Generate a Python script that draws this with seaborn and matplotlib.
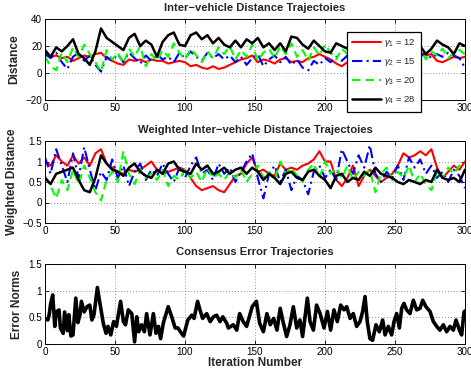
import matplotlib
matplotlib.use("Agg")
import matplotlib.pyplot as plt
import seaborn as sns

# ---------------- data ----------------
iters = list(range(0, 301, 4))

dist_g1 = [15, 12, 13, 11, 12, 9, 11, 13, 12, 14, 15, 11, 9, 7, 6, 10, 9, 10, 8, 10,
           9, 9, 7, 8, 9, 8, 5, 6, 4, 3, 5, 3, 4, 6, 8, 10, 11, 13, 8, 10,
           9, 7, 10, 11, 8, 9, 8, 11, 12, 14, 12, 10, 7, 5, 8, 10, 9, 11, 10, 12,
           11, 9, 12, 10, 11, 13, 12, 15, 13, 14, 9, 8, 10, 12, 11, 12]
dist_g2 = [14, 11, 15, 8, 3, 12, 15, 9, 13, 6, 1, 12, 9, 14, 8, 15, 11, 7, 13, 9,
           14, 10, 12, 8, 15, 11, 16, 12, 9, 15, 11, 14, 10, 13, 8, 12, 6, 11, 14, 5,
           10, 13, 8, 12, 6, 10, 4, 2, 9, 6, 11, 8, 12, 9, 13, 10, 14, 8, 12, 10,
           13, 9, 15, 11, 13, 10, 14, 12, 15, 11, 14, 12, 15, 13, 11, 4]
dist_g3 = [12, 5, 2, 15, 8, 19, 12, 21, 14, 8, 1, 17, 10, 15, 7, 18, 12, 20, 5, 14,
           9, 17, 12, 22, 15, 10, 18, 13, 8, 16, 11, 19, 14, 20, 10, 17, 12, 21, 9, 15,
           18, 11, 20, 14, 22, 12, 17, 9, 19, 13, 21, 15, 10, 18, 14, 11, 17, 13, 19, 12,
           16, 10, 18, 14, 11, 17, 12, 19, 10, 16, 13, 18, 11, 15, 17, 14]
dist_g4 = [17, 12, 19, 16, 20, 25, 14, 11, 6, 16, 33, 26, 23, 20, 17, 26, 29, 20, 24, 21,
           12, 23, 28, 30, 21, 20, 28, 30, 25, 28, 22, 26, 21, 19, 24, 19, 25, 22, 26, 19,
           22, 17, 22, 16, 27, 26, 21, 18, 24, 20, 16, 15, 22, 20, 18, 21, 17, 23, 19, 22,
           18, 20, 24, 19, 21, 17, 15, 20, 14, 18, 24, 21, 19, 14, 22, 20]

wdist_g1 = [1.0, 0.9, 1.15, 1.0, 0.9, 1.15, 0.95, 1.1, 0.9, 1.2, 1.3, 0.95, 0.85, 0.75, 0.7, 0.8,
            0.75, 0.8, 0.9, 1.0, 0.8, 0.7, 0.75, 0.8, 0.85, 0.8, 0.6, 0.4, 0.3, 0.35, 0.4, 0.3,
            0.25, 0.45, 0.65, 0.7, 0.95, 1.1, 0.75, 0.8, 0.7, 0.65, 0.95, 0.8, 0.85, 0.8, 0.9, 0.95,
            1.05, 1.25, 1.0, 1.0, 0.55, 0.4, 0.6, 0.9, 0.4, 0.65, 0.8, 0.65, 0.5, 0.6, 0.7, 0.9,
            1.2, 1.1, 1.15, 1.25, 1.15, 1.3, 0.85, 0.6, 0.75, 0.9, 0.8, 1.0]
wdist_g2 = [1.1, 0.7, 1.3, 0.9, 0.5, 1.2, 0.6, 1.35, 0.8, 0.3, 0.75, 0.55, 1.05, 0.6, 0.9, 0.4,
            0.75, 0.95, 0.55, 0.8, 0.65, 0.95, 0.7, 0.5, 0.85, 0.6, 0.9, 1.1, 0.7, 0.8, 0.55, 0.95,
            0.7, 0.85, 0.5, 0.75, 1.0, 1.2, 0.6, 0.1, 0.7, 0.9, 0.5, 0.8, 0.3, 0.65, 0.55, 0.2,
            0.75, 0.9, 0.6, 0.8, 0.55, 1.3, 1.0, 0.7, 1.15, 0.85, 1.4, 0.7, 0.5, 0.75, 0.6, 0.9,
            0.55, 1.1, 0.85, 1.05, 0.7, 0.9, 0.6, 0.75, 0.5, 0.8, 0.65, 0.35]
wdist_g3 = [0.65, 0.4, 0.1, 0.55, 0.3, 0.8, 0.45, 0.9, 0.6, 0.25, 0.05, 0.55, 0.75, 0.5, 1.25, 0.7,
            0.45, 0.8, 0.6, 0.7, 0.55, 0.8, 0.4, 0.65, 0.55, 0.8, 0.6, 0.75, 0.5, 0.85, 0.6, 0.7,
            0.55, 0.75, 0.6, 0.8, 0.5, 0.7, 0.9, 0.6, 0.75, 0.55, 1.0, 0.7, 0.85, 0.65, 0.5, 0.8,
            0.95, 0.6, 1.0, 0.7, 0.85, 0.6, 0.9, 0.55, 0.75, 0.65, 0.8, 0.25, 0.7, 0.85, 0.55, 0.75,
            0.6, 0.9, 0.5, 0.7, 0.45, 0.3, 0.75, 0.6, 0.85, 0.7, 0.9, 0.75]
wdist_g4 = [0.6, 0.45, 0.7, 0.75, 0.8, 0.85, 0.55, 0.3, 0.25, 0.6, 1.15, 0.95, 0.8, 0.75, 0.65, 0.85,
            0.95, 0.75, 0.65, 0.6, 0.8, 0.7, 0.95, 1.0, 0.8, 0.75, 0.7, 0.95, 0.8, 0.9, 0.7, 0.75,
            0.85, 0.7, 0.8, 0.85, 0.7, 0.85, 0.75, 0.55, 0.7, 0.6, 0.45, 0.7, 0.75, 0.6, 0.55, 0.75,
            0.8, 0.65, 0.55, 0.35, 0.65, 0.7, 0.5, 0.6, 0.55, 0.75, 0.65, 0.85, 0.7, 0.65, 0.6, 0.5,
            0.45, 0.55, 0.5, 0.45, 0.55, 0.5, 0.8, 0.6, 0.55, 0.6, 0.5, 0.8]

err_x = [0, 2, 3, 4, 5.5, 7, 8, 10, 11, 13, 14, 16, 17, 18.5, 20, 22, 23.5, 25, 26, 28,
         30, 32, 33.5, 35, 37.4, 39, 41.7, 43.6, 45, 47, 49, 51, 54, 56, 57.5, 59.5, 62, 64,
         65.5, 67, 69, 71, 72.6, 75, 77.4, 79.3, 81, 82.6, 84.5, 88, 90.5, 93, 95, 97.5, 99,
         102, 104.8, 106.5, 109, 110.7, 112.6, 115.5, 118, 120.3, 122.6, 125, 127, 129.8, 131,
         134.5, 137, 139, 141.6, 144, 148,
         151, 153.3, 156, 158.5, 160.9, 163.3, 165.7, 168, 170, 172.6, 175, 177.4, 179.8,
         182.1, 184, 187.4, 189.3, 191.7, 194, 196.5, 199.3, 201.7, 204, 206.4, 208.8, 211.2,
         213.6, 215.5, 217.9, 220.2, 222.6, 225, 226.9, 228.6, 230.2, 232.1, 234, 236.4,
         238.8, 241.2, 242.9, 245.2, 247.6, 249.3, 251.2, 253.1, 254.8, 256.4, 258.3, 260.7,
         263.1, 265.5, 267.9, 269.8, 272.1, 275, 277.4, 279.8, 282.1, 284.5, 286.9, 289.3,
         291.7, 293.6, 296, 297.6, 299.3, 300]
err_y = [0.48, 0.45, 0.55, 0.75, 0.92, 0.33, 0.6, 0.64, 0.3, 0.2, 0.6, 0.25, 0.55, 0.15, 0.17,
         0.86, 0.4, 0.55, 0.8, 0.6, 0.7, 0.73, 0.45, 0.55, 1.06, 0.8, 0.38, 0.2, 0.33, 0.17,
         0.42, 0.33, 0.8, 0.42, 0.36, 0.64, 0.57, 0.04, 0.51, 0.23, 0.36, 0.23, 0.57, 0.17,
         0.57, 0.2, 0.33, 0.1, 0.39, 0.7, 0.51, 0.3, 0.3, 0.2, 0.15, 0.45, 0.54, 0.48, 0.8,
         0.64, 0.48, 0.57, 0.42, 0.51, 0.54, 0.42, 0.51, 0.39, 0.3, 0.36, 0.26, 0.57, 0.42,
         0.33, 0.7,
         0.8, 0.39, 0.23, 0.57, 0.36, 0.48, 0.26, 0.67, 0.42, 0.14, 0.36, 0.7, 0.3, 0.45,
         0.14, 0.86, 0.42, 0.26, 0.73, 0.57, 0.3, 0.61, 0.26, 0.64, 0.42, 0.73, 0.64, 0.7,
         0.48, 0.57, 0.33, 0.42, 0.61, 0.89, 0.42, 0.1, 0.07, 0.36, 0.23, 0.45, 0.17, 0.33,
         0.17, 0.42, 0.57, 0.3, 0.67, 0.76, 0.64, 0.57, 0.82, 0.64, 0.67, 0.82, 0.7, 0.61,
         0.42, 0.33, 0.26, 0.36, 0.23, 0.33, 0.26, 0.45, 0.26, 0.17, 0.6, 0.62]

labels = [r"$\gamma_1$ = 12", r"$\gamma_2$ = 15", r"$\gamma_3$ = 20", r"$\gamma_4$ = 28"]
titles = ["Inter\u2212vehicle Distance Trajectoies",
          "Weighted Inter\u2212vehicle Distance Trajectoies",
          "Consensus Error Trajectories"]
ylabels = ["Distance", "Weighted Distance", "Error Norms"]
xticks = [0, 50, 100, 150, 200, 250, 300]
yticks_top = [-20, 0, 20, 40]
yticks_mid = [-0.5, 0, 0.5, 1, 1.5]
yticks_bot = [0, 0.5, 1, 1.5]

# ---------------- style ----------------
sns.set_theme(style="white")
plt.rcParams['font.family'] = ['Liberation Sans', 'DejaVu Sans']
plt.rcParams['mathtext.fontset'] = 'custom'
plt.rcParams['mathtext.rm'] = 'Liberation Sans'
plt.rcParams['mathtext.it'] = 'Liberation Sans:italic'
plt.rcParams['axes.unicode_minus'] = True

styles = [dict(color=(1, 0, 0), linestyle='-', linewidth=1.5),
          dict(color=(0, 0, 1), linestyle=(0, (5, 2, 1, 2)), linewidth=1.5),
          dict(color=(0, 1, 0), linestyle=(0, (4, 2.5)), linewidth=1.5),
          dict(color=(0, 0, 0), linestyle='-', linewidth=1.8)]

fig = plt.figure(figsize=(4.71, 3.79), dpi=100)
L, W = 45 / 471, 420 / 471
ax1 = fig.add_axes([L, 1 - 100 / 379, W, 81 / 379])
ax2 = fig.add_axes([L, 1 - 223 / 379, W, 82 / 379])
ax3 = fig.add_axes([L, 1 - 344 / 379, W, 80 / 379])

for vals, lab, st in zip([dist_g1, dist_g2, dist_g3, dist_g4], labels, styles):
    sns.lineplot(x=iters, y=vals, ax=ax1, label=lab, **st)
for vals, st in zip([wdist_g1, wdist_g2, wdist_g3, wdist_g4], styles):
    sns.lineplot(x=iters, y=vals, ax=ax2, legend=False, **st)
sns.lineplot(x=err_x, y=err_y, ax=ax3, color='black', linewidth=2.6, legend=False)

label_x = [-0.060, -0.064, -0.052]
title_pad = [5.5, 5.5, 6.2]
for ax, yt, title, yl, lx, tp in zip([ax1, ax2, ax3], [yticks_top, yticks_mid, yticks_bot],
                                     titles, ylabels, label_x, title_pad):
    ax.set_xlim(0, 300)
    ax.set_ylim(yt[0], yt[-1])
    ax.set_xticks(xticks)
    ax.set_yticks(yt)
    ax.set_yticklabels([("%g" % v).replace("-", "\u2212") for v in yt])
    ax.set_xticklabels([str(v) for v in xticks])
    ax.grid(True, linestyle=(0, (1, 2.5)), color='#707070', linewidth=0.6)
    ax.tick_params(direction='in', length=3, width=0.6, labelsize=7.1, pad=2,
                   top=True, right=True, bottom=True, left=True, colors='black')
    for sp in ax.spines.values():
        sp.set_color('black')
        sp.set_linewidth(0.7)
    ax.set_title(title, fontsize=8.1, fontweight='bold', pad=tp)
    ax.set_ylabel(yl, fontsize=8.6, fontweight='bold')
    ax.yaxis.set_label_coords(lx, 0.5)
    ax.set_xlabel("")

ax3.set_xlabel("Iteration Number", fontsize=8.5, fontweight='bold', labelpad=0)

leg = ax1.legend(loc='upper left', bbox_to_anchor=(347 / 471, 1 - 32 / 379),
                 bbox_transform=fig.transFigure, fontsize=6.8, frameon=True,
                 fancybox=False, edgecolor='black', framealpha=1, handlelength=3.0,
                 handletextpad=0.35, labelspacing=0.75, borderpad=0.55, borderaxespad=0)
leg.get_frame().set_linewidth(0.9)

fig.savefig("out.png", dpi=100)
